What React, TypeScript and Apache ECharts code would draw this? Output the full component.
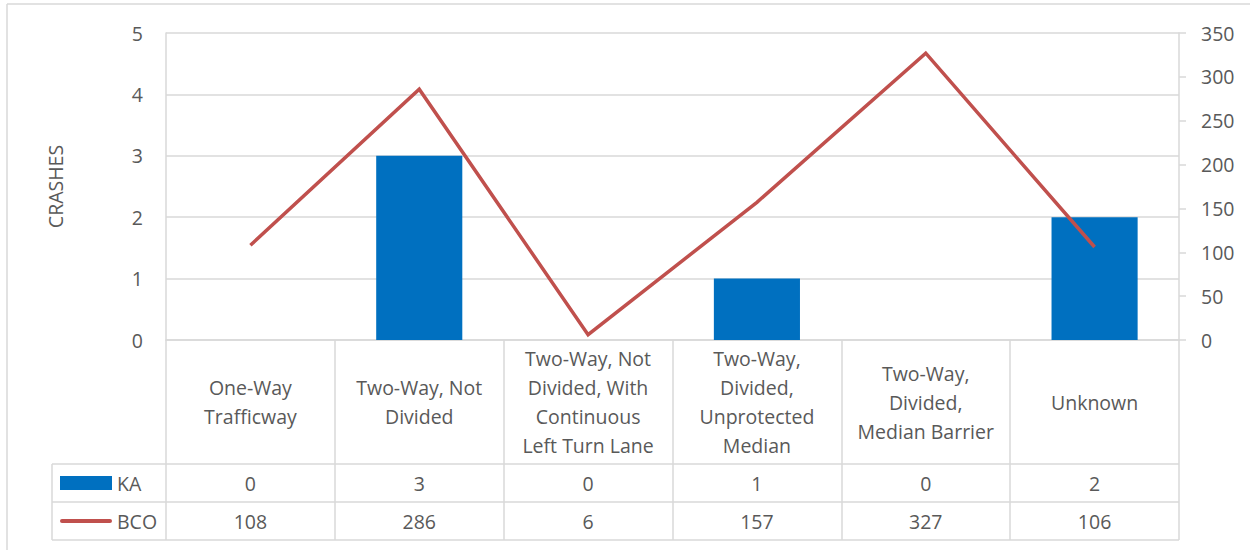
import React, { useEffect, useRef } from "react";
import * as echarts from "echarts";

const categories = [
  "One-Way\nTrafficway",
  "Two-Way, Not\nDivided",
  "Two-Way, Not\nDivided, With\nContinuous\nLeft Turn Lane",
  "Two-Way,\nDivided,\nUnprotected\nMedian",
  "Two-Way,\nDivided,\nMedian Barrier",
  "Unknown",
];
const kaValues = [0, 3, 0, 1, 0, 2];
const bcoValues = [108, 286, 6, 157, 327, 106];
const seriesNames = ["KA", "BCO"];
const leftAxisName = "CRASHES";

const FONT = "'Open Sans', sans-serif";
const FS = 19.5;
const TXT = "#595959";
const GRID = "#D9D9D9";

export default function App() {
  const ref = useRef<HTMLDivElement>(null);
  useEffect(() => {
    const chart = echarts.init(ref.current!, null, { renderer: "svg" });
    const gl = (x1: number, y1: number, x2: number, y2: number) => ({
      type: "line",
      shape: { x1, y1, x2, y2 },
      style: { stroke: GRID, lineWidth: 1.5 },
      silent: true,
    });
    const valueAxis = (data: number[], margin: number) => ({
      type: "category",
      data: data.map(String),
      position: "bottom",
      gridIndex: 0,
      axisLine: { show: false },
      axisTick: { show: false },
      splitLine: { show: false },
      axisLabel: {
        margin,
        verticalAlign: "middle",
        fontSize: FS,
        fontFamily: FONT,
        color: TXT,
        interval: 0,
      },
    });
    chart.setOption({
      animation: false,
      textStyle: { fontFamily: FONT },
      grid: { left: 166, top: 33, width: 1013, height: 307, containLabel: false },
      legend: {
        orient: "vertical",
        left: 60,
        top: 472,
        padding: 0,
        itemWidth: 52,
        itemHeight: 14,
        itemGap: 16,
        textStyle: { fontSize: FS, color: TXT, fontFamily: FONT, lineHeight: 22 },
        data: [
          { name: seriesNames[0], icon: "rect" },
          { name: seriesNames[1], icon: "path://M2,0 H50 A2,2 0 0 1 50,4 H2 A2,2 0 0 1 2,0 Z" },
        ],
        selectedMode: false,
      },
      xAxis: [
        {
          type: "category",
          data: categories,
          axisLine: { show: true, lineStyle: { color: GRID, width: 1.5 } },
          axisTick: {
            show: true,
            length: 200,
            interval: 0,
            lineStyle: { color: GRID, width: 1.5 },
          },
          axisLabel: {
            interval: 0,
            margin: 62,
            verticalAlign: "middle",
            lineHeight: 29,
            fontSize: FS,
            fontFamily: FONT,
            color: TXT,
          },
        },
        valueAxis(kaValues, 143),
        valueAxis(bcoValues, 181),
      ],
      yAxis: [
        {
          type: "value",
          min: 0,
          max: 5,
          interval: 1,
          name: leftAxisName,
          nameLocation: "middle",
          nameRotate: 90,
          nameGap: 101,
          nameTextStyle: { fontSize: FS, color: TXT, fontFamily: FONT },
          axisLine: { show: true, lineStyle: { color: GRID, width: 1.5 } },
          axisTick: { show: false },
          splitLine: { show: true, lineStyle: { color: GRID, width: 1.5 } },
          axisLabel: { margin: 23, fontSize: FS, color: TXT, fontFamily: FONT },
        },
        {
          type: "value",
          min: 0,
          max: 350,
          interval: 50,
          position: "right",
          axisLine: { show: true, lineStyle: { color: GRID, width: 1.5 } },
          axisTick: { show: true, length: 7, lineStyle: { color: GRID, width: 1.5 } },
          splitLine: { show: false },
          axisLabel: { margin: 22, fontSize: FS, color: TXT, fontFamily: FONT },
        },
      ],
      series: [
        {
          name: seriesNames[0],
          type: "bar",
          data: kaValues,
          barWidth: "51%",
          itemStyle: { color: "#0070C0" },
          xAxisIndex: 0,
          yAxisIndex: 0,
        },
        {
          name: seriesNames[1],
          type: "line",
          data: bcoValues,
          xAxisIndex: 0,
          yAxisIndex: 1,
          symbol: "none",
          lineStyle: { color: "#C0504D", width: 3.5, join: "miter" },
          itemStyle: { color: "#C0504D" },
        },
      ],
      graphic: [
        gl(7, 4, 1250, 4),
        gl(7, 4, 7, 550),
        gl(52, 464, 1179, 464),
        gl(52, 502, 1179, 502),
        gl(52, 540, 1179, 540),
        gl(52, 464, 52, 540),
      ],
    });
    return () => chart.dispose();
  }, []);
  return (
    <div
      ref={ref}
      style={{ position: "fixed", left: 0, top: 0, width: 1250, height: 550, background: "#fff" }}
    />
  );
}
